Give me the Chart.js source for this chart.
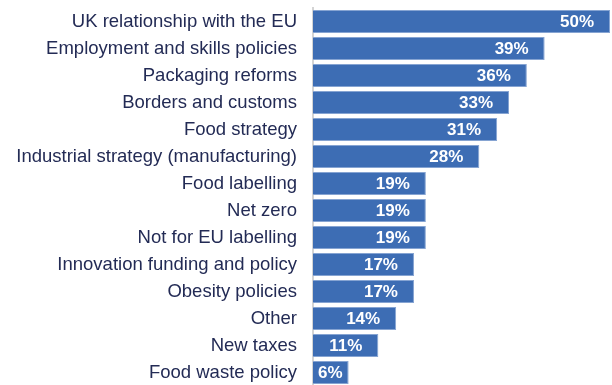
<!DOCTYPE html>
<html>
<head>
<meta charset="utf-8">
<script src="https://cdn.jsdelivr.net/npm/chart.js@4/dist/chart.umd.min.js"></script>
<style>
	html, body { margin: 0; padding: 0; background: #fff; overflow: hidden; }
	canvas { display: block; }
</style>
</head>
<body>
<canvas id="myChart" width="612" height="386"></canvas>
<script>
const categories = [
	'UK relationship with the EU',
	'Employment and skills policies',
	'Packaging reforms',
	'Borders and customs',
	'Food strategy',
	'Industrial strategy (manufacturing)',
	'Food labelling',
	'Net zero',
	'Not for EU labelling',
	'Innovation funding and policy',
	'Obesity policies',
	'Other',
	'New taxes',
	'Food waste policy'
];
const shares = [50, 39, 36, 33, 31, 28, 19, 19, 19, 17, 17, 14, 11, 6];
const axisMax = 50;

const FONT = "'Liberation Sans', Arial, sans-serif";

// white percentage written inside the end of each bar
const barValues = {
	id: 'barValues',
	afterDatasetsDraw(chart) {
		const ctx = chart.ctx;
		const meta = chart.getDatasetMeta(0);
		ctx.save();
		ctx.font = 'bold 17px ' + FONT;
		ctx.fillStyle = '#ffffff';
		ctx.textAlign = 'left';
		ctx.textBaseline = 'middle';
		meta.data.forEach((bar, i) => {
			const text = shares[i] + '%';
			const w = ctx.measureText(text).width;
			let x = bar.x - 16 - w;
			if (x < bar.base + 5) x = bar.base + 5;
			ctx.fillText(text, x, bar.y + 1);
		});
		ctx.restore();
	}
};

new Chart(document.getElementById('myChart'), {
	type: 'bar',
	data: {
		labels: categories,
		datasets: [
			{
				data: shares,
				backgroundColor: '#3D6DB4',
				borderColor: '#86A4D2',
				borderWidth: 1,
				borderSkipped: 'start',
				categoryPercentage: 1,
				barPercentage: 0.85
			}
		]
	},
	options: {
		responsive: false,
		indexAxis: 'y',
		animation: false,
		layout: { padding: { top: 8, right: 2, bottom: 0, left: 0 } },
		plugins: {
			legend: { display: false },
			tooltip: { enabled: false }
		},
		scales: {
			x: {
				display: false,
				min: 0,
				max: axisMax
			},
			y: {
				afterFit(scale) {
					scale.width = 313;
					scale.paddingTop = 0;
					scale.paddingBottom = 0;
				},
				grid: { display: false, drawTicks: false },
				border: { display: true, color: '#D4D4D4', width: 2 },
				ticks: {
					padding: 16,
					color: '#232B55',
					font: { family: FONT, size: 18.5 }
				}
			}
		}
	},
	plugins: [barValues]
});
</script>
</body>
</html>
